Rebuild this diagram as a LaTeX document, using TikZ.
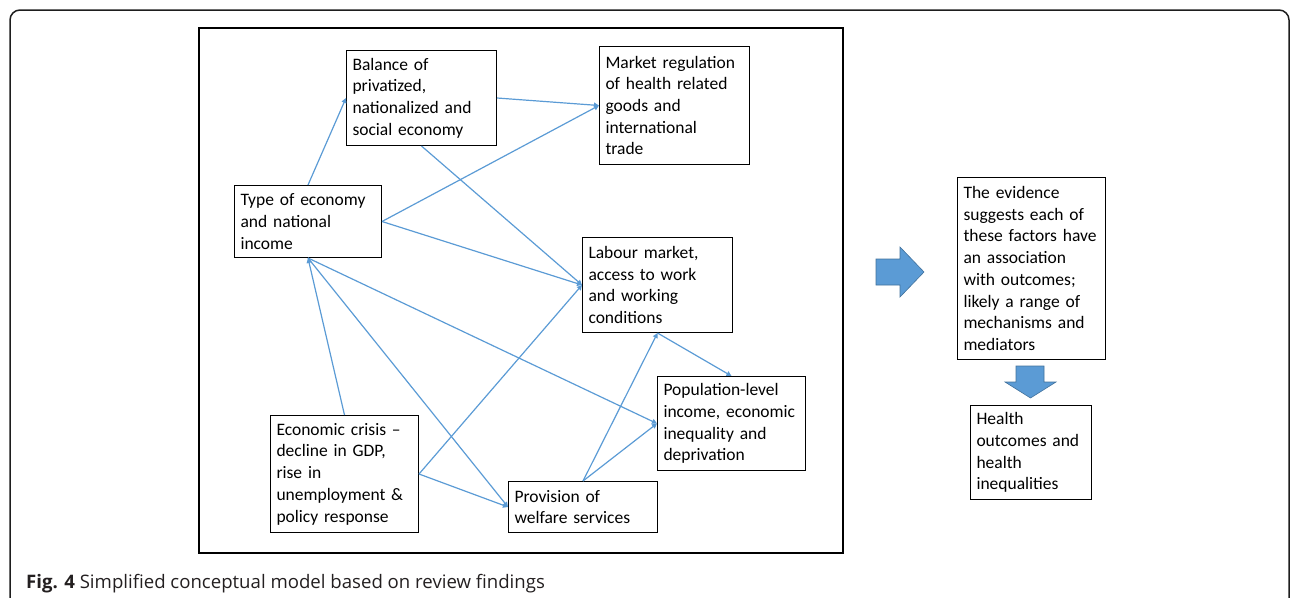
\documentclass[tikz,border=0pt]{standalone}
\usepackage{fontspec}
\setmainfont{Carlito}
\newfontfamily\capfont{Open Sans}
\usetikzlibrary{arrows.meta}
\definecolor{conncol}{RGB}{91,155,213}
\definecolor{arrfill}{RGB}{91,155,213}
\definecolor{arrdraw}{RGB}{65,113,156}
\definecolor{framecol}{RGB}{30,30,30}
\definecolor{captext}{RGB}{35,31,32}
\begin{document}
\hyphenpenalty=10000
\exhyphenpenalty=10000
\begin{tikzpicture}[x=1pt,y=-1pt,
  box/.style={draw=black, line width=1pt, inner xsep=6pt, inner ysep=3pt, align=left,
    font=\fontsize{17.5}{21.7}\selectfont, anchor=north west},
  conn/.style={draw=conncol, line width=1.2pt, -{Triangle[length=5pt,width=5pt]}},
  blockarrow/.style={fill=arrfill, draw=arrdraw, line width=0.6pt}
]
\useasboundingbox (0,0) rectangle (1292,597);
\begin{scope}
  \clip (0,0) rectangle (1292,597);
  \draw[framecol, line width=1.5pt, rounded corners=10pt] (10,10) rectangle (1289,640);
\end{scope}
\draw[line width=2pt] (199,28) rectangle (843,553);

\node[box, text width=138pt, minimum height=95pt] (bal) at (346,50)
  {Balance of\\privatized,\\nationalized and\\social economy};
\node[box, text width=138pt, minimum height=118pt] (mkt) at (599,46)
  {Market regulation\\of health related\\goods and\\international\\trade};
\node[box, text width=135pt, minimum height=72pt] (type) at (234,185)
  {Type of economy\\and national\\income};
\node[box, text width=138pt, minimum height=95pt] (lab) at (582,237)
  {Labour market,\\access to work\\and working\\conditions};
\node[box, text width=136pt, minimum height=94pt] (pop) at (657,376)
  {Population-level\\income, economic\\inequality and\\deprivation};
\node[box, text width=136pt, minimum height=117pt] (crisis) at (270,415)
  {Economic crisis --\\decline in GDP,\\rise in\\unemployment \&\\policy response};
\node[box, text width=137pt, minimum height=51pt] (prov) at (508,481)
  {Provision of\\welfare services};
\node[box, text width=136pt, minimum height=182pt] (evid) at (957,177)
  {The evidence\\suggests each of\\these factors have\\an association\\with outcomes;\\likely a range of\\mechanisms and\\mediators};
\node[box, text width=109pt, minimum height=94pt] (health) at (970,405)
  {Health\\outcomes and\\health\\inequalities};

\draw[conn] (type.north) -- (bal.west);
\draw[conn] (bal.east) -- (mkt.west);
\draw[conn] (type.east) -- (mkt.west);
\draw[conn] (type.east) -- (lab.west);
\draw[conn] (bal.south) -- (lab.west);
\draw[conn] (crisis.north) -- (type.south);
\draw[conn] (type.south) -- (prov.west);
\draw[conn] (type.south) -- (pop.west);
\draw[conn] (crisis.east) -- (lab.west);
\draw[conn] (crisis.east) -- (prov.west);
\draw[conn] (prov.north) -- (lab.south);
\draw[conn] (prov.north) -- (pop.west);
\draw[conn] (lab.south) -- (pop.north);

\filldraw[blockarrow] (876,259) -- (900,259) -- (900,247) -- (924,272) -- (900,297) -- (900,285) -- (876,285) -- cycle;
\filldraw[blockarrow] (1016,366) -- (1044,366) -- (1044,382) -- (1056,382) -- (1030.5,398) -- (1005,382) -- (1016,382) -- cycle;

\node[anchor=base west, inner sep=0pt, text=captext, font=\capfont\fontsize{18.6}{22}\selectfont] (cap) at (26,588)
  {\textbf{Fig. 4} Simplified conceptual model based on review findings};
\end{tikzpicture}
\end{document}
